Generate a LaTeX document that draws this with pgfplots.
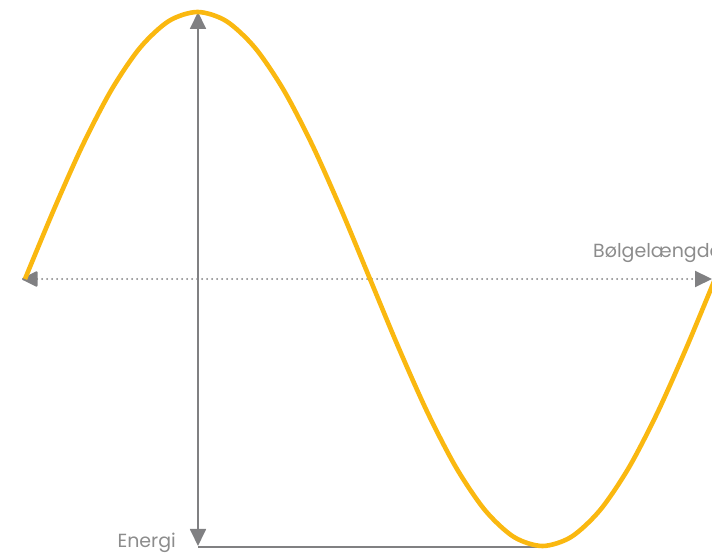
\documentclass[border=0pt]{standalone}
\usepackage{pgfplots}
\pgfplotsset{compat=1.18}
\usepackage{fontspec}
\setmainfont{Poppins}
\usetikzlibrary{arrows.meta}
\definecolor{wave}{RGB}{250,184,16}
\definecolor{gr}{RGB}{128,128,130}
\definecolor{txt}{RGB}{140,140,140}
\begin{document}
\begin{tikzpicture}
\begin{axis}[
  scale only axis, width=712pt, height=553pt,
  xmin=0, xmax=712, ymin=0, ymax=553,
  hide axis, clip=false,
]
% energy axis
\addplot[gr, line width=1.8pt, {Triangle[length=17pt,width=16pt]}-{Triangle[length=17pt,width=16pt]}] coordinates {(198,541) (198,7)};
\addplot[gr, line width=1.8pt] coordinates {(198,6) (545,6)};
% wavelength axis
\addplot[gr, line width=2.1pt, line cap=round, dash pattern=on 0pt off 5pt, {Triangle[length=17pt,width=16pt,round=false]}-{Triangle[length=17pt,width=16pt]}] coordinates {(22,274) (712,274)};
% wave
\addplot[wave, line width=4.6pt, smooth] coordinates {
(25,274) (53.75,343.1) (82.5,407.5) (111.25,462.8) (140,505.2) (168.75,531.9)
(197.5,541) (226.25,531.9) (255,505.2) (283.75,462.8) (312.5,407.5) (341.25,343.1)
(370,274) (398.75,204.9) (427.5,140.5) (456.25,85.2) (485,42.8) (513.75,16.1)
(542.5,7) (571.25,16.1) (600,42.8) (628.75,85.2) (657.5,140.5) (686.25,204.9) (715,274)};
\node[anchor=base east, text=txt, font=\fontsize{19}{22}\selectfont, inner sep=0pt] at (axis cs:176,5) {Energi};
\node[anchor=base west, text=txt, font=\fontsize{19}{22}\selectfont, inner sep=0pt] at (axis cs:593,295) {Bølgelængde};
\end{axis}
\pgfresetboundingbox
\useasboundingbox (0,0) rectangle (712pt,553pt);
\end{tikzpicture}
\end{document}
